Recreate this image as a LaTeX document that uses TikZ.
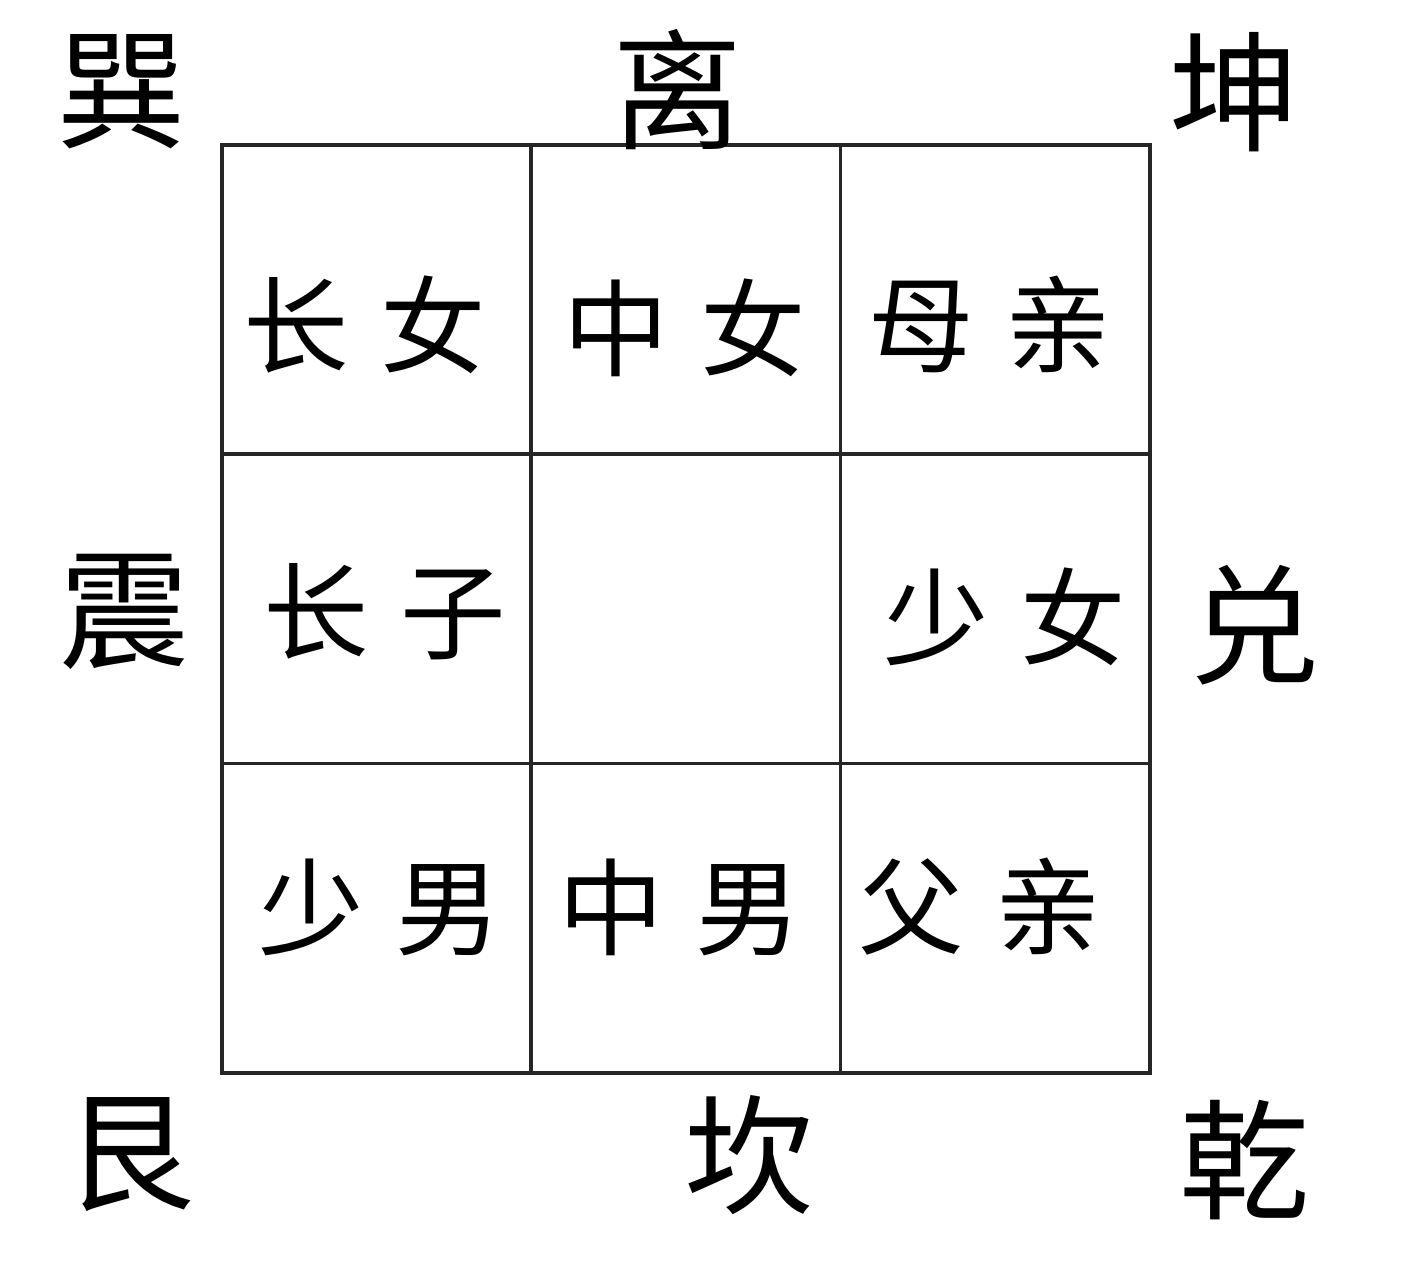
\documentclass[tikz,border=0pt]{standalone}
\usepackage{fontspec}
\newfontfamily\cjk{Noto Sans CJK SC}
\usepackage{tikz}
\usetikzlibrary{positioning}
\tikzstyle{cell} = [
    rectangle, draw=black!85,
    line width=1pt,
    minimum width=3.093cm,
    minimum height=3.093cm,
]
\tikzstyle{role} = [
    text=black, font=\cjk\fontsize{30}{30}\selectfont,
]
\tikzstyle{gua} = [
    text=black, font=\cjk\fontsize{37}{37}\selectfont,
]
\newcommand{\gap}{\hspace{0.3em}}

\begin{document}
\begin{tikzpicture}
    \useasboundingbox (0,0) rectangle (14.16,12.80);
    % grid
    \foreach \r in {1,2,3} {
        \foreach \c in {1,2,3} {
            \node (cell\r\c) at (0.673+3.093*\c, 12.897-3.093*\r) [cell] {};
        }
    }

    % family members
    \node (changnv)  at (3.65, 9.55)  [role] {长\gap 女};
    \node (zhongnv)  at (6.85, 9.52)  [role] {中\gap 女};
    \node (muqin)    at (9.90, 9.55)  [role] {母\gap 亲};
    \node (changzi)  at (3.85, 6.68)  [role] {长\gap 子};
    \node (shaonv)   at (10.05, 6.63) [role] {少\gap 女};
    \node (shaonan)  at (3.80, 3.73)  [role] {少\gap 男};
    \node (zhongnan) at (6.80, 3.73)  [role] {中\gap 男};
    \node (fuqin)    at (9.80, 3.73)  [role] {父\gap 亲};

    % trigrams
    \node (xun)  at (1.22, 11.88) [gua] {巽};
    \node (li)   at (6.78, 11.90) [gua] {离};
    \node (kun)  at (12.35, 11.88) [gua] {坤};
    \node (zhen) at (1.25, 6.68)  [gua] {震};
    \node (dui)  at (12.55, 6.55) [gua] {兑};
    \node (gen)  at (1.30, 1.25)  [gua] {艮};
    \node (kan)  at (7.50, 1.25)  [gua] {坎};
    \node (qian) at (12.45, 1.20) [gua] {乾};

\end{tikzpicture}
\end{document}
